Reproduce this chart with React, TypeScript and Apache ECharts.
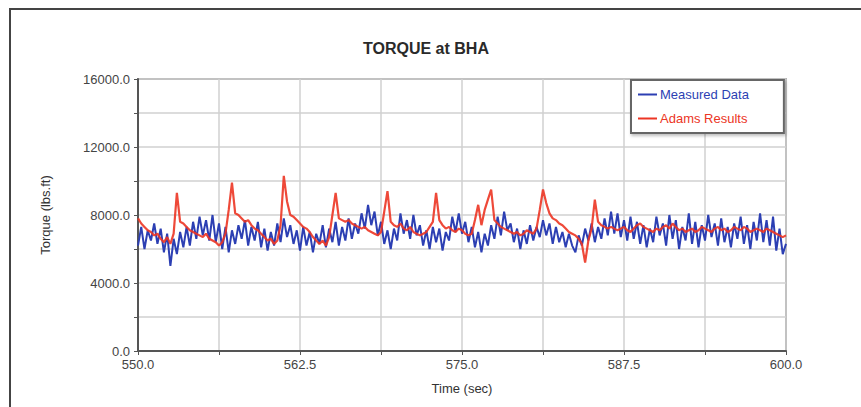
import React, { useEffect, useRef } from "react";
import * as echarts from "echarts";

const chartTitle = "TORQUE at BHA";
const xName = "Time (sec)";
const yName = "Torque (lbs.ft)";
const seriesNames = ["Measured Data", "Adams Results"];
const timeStart = 550;
const timeStep = 0.25;

// Measured torque (lbs.ft), one value every 0.25 s from 550 s to 600 s
const measured = [
  6200, 7300, 6000, 7100, 6500, 7500, 6300, 7200, 5800, 6900, 5000, 6600, 5700, 7000, 6100, 7300,
  6200, 7600, 6600, 7900, 6800, 7700, 6500, 8000, 6400, 7500, 6000, 7300, 5800, 7100, 6300, 7400,
  6600, 7700, 6200, 7300, 6500, 7600, 6100, 7200, 5900, 7000, 6200, 7500, 6400, 7800, 6700, 7400,
  6300, 7100, 5900, 7300, 6200, 7000, 5800, 6900, 6300, 7400, 6100, 7200, 6400, 7600, 6200, 7300,
  6500, 7800, 6600, 7500, 6900, 8100, 7200, 8600, 7400, 8200, 6800, 7600, 6300, 7100, 6000, 7200,
  6500, 8100, 6900, 7700, 6600, 8000, 6800, 7400, 6200, 7100, 6000, 7300, 6400, 7200, 5900, 7000,
  6500, 7900, 7000, 8100, 6900, 7600, 6400, 7300, 6100, 7000, 5800, 6900, 6200, 7400, 6600, 7900,
  6800, 8200, 7100, 7500, 6400, 7200, 6000, 7100, 6300, 7400, 6500, 7300, 6700, 7700, 6800, 7500,
  6300, 7300, 6400, 7000, 6100, 6900, 6200, 5800, 6800, 6200, 7200, 6500, 7500, 6400, 7300, 6600,
  7800, 6800, 8200, 6900, 8100, 6700, 7700, 6500, 7900, 6600, 7600, 6300, 7400, 6100, 7200, 6400,
  7900, 6800, 7500, 6200, 8000, 6600, 7700, 6000, 7300, 6500, 8100, 6300, 7600, 6100, 7400, 6500,
  8000, 6700, 7500, 6200, 7800, 6400, 7300, 6100, 7500, 6600, 7900, 6300, 7400, 6000, 7600, 6500,
  8100, 6400, 7700, 6200, 7900, 5900, 7200, 5700, 6300,
];

// Adams simulation torque (lbs.ft), same time base
const adams = [
  7800, 7500, 7300, 7100, 7000, 6800, 6900, 6600, 6400, 6700, 6300, 6900, 9300, 7600, 7500, 7300,
  7100, 7000, 6900, 6800, 6700, 6900, 6600, 6500, 6400, 6200, 6400, 6900, 8300, 9900, 8100, 8000,
  7800, 7600, 7700, 7400, 7200, 7100, 6900, 6700, 6500, 6600, 6300, 6500, 7400, 10300, 8800, 8000,
  7900, 7700, 7500, 7300, 7200, 7000, 6700, 6500, 6300, 6500, 6200, 6700, 8000, 9300, 7800, 7700,
  7600, 7700, 7500, 7400, 7300, 7200, 7300, 7100, 7000, 6900, 6800, 7000, 8200, 9400, 7600, 7400,
  7300, 7500, 7200, 7100, 7300, 7000, 6900, 6800, 6900, 7000, 7300, 7600, 9300, 7700, 7400, 7200,
  7300, 7100, 7000, 7200, 7100, 6900, 6800, 6900, 7700, 8600, 7400, 8300, 8900, 9500, 7700, 7500,
  7300, 7200, 7100, 7000, 6900, 7000, 6800, 6900, 7100, 7000, 6900, 7200, 8300, 9500, 8700, 8100,
  7800, 7700, 7500, 7400, 7200, 7000, 6900, 6800, 6600, 6300, 5200, 6500, 7200, 8900, 7600, 7400,
  7300, 7200, 7300, 7200, 7100, 7200, 7300, 7100, 7000, 7200, 7400, 7500, 7300, 7200, 7100, 7000,
  7200, 7100, 7300, 7400, 7200, 7500, 7300, 7100, 7200, 7000, 7100, 7200, 7000, 7100, 7300, 7200,
  7100, 7000, 7200, 7300, 7100, 7200, 7000, 7100, 7300, 7200, 7100, 7300, 7200, 7000, 7100, 7200,
  7100, 7000, 7200, 7100, 7000, 6900, 6800, 6700, 6800,
];

const blue = "#2c3fb3";
const red = "#ec3524";

const toPairs = (vals: number[]) => vals.map((v, i) => [timeStart + i * timeStep, v]);

export default function App() {
  const ref = useRef<HTMLDivElement>(null);
  useEffect(() => {
    if (!ref.current) return;
    const chart = echarts.init(ref.current, undefined, { renderer: "svg" });
    const font = "'Liberation Sans', Arial, sans-serif";
    chart.setOption({
      animation: false,
      backgroundColor: "#ffffff",
      textStyle: { fontFamily: font },
      title: {
        text: chartTitle,
        left: 358,
        top: 35,
        textStyle: { fontSize: 16, fontWeight: "bold", color: "#2a2a2a", fontFamily: font },
      },
      graphic: [
        {
          type: "rect",
          z: -10,
          shape: { x: 10, y: 9, width: 900, height: 450 },
          style: { fill: "none", stroke: "#444", lineWidth: 2 },
        },
      ],
      legend: {
        orient: "vertical",
        left: 631,
        top: 80,
        padding: [8, 35, 8, 7],
        itemGap: 11,
        itemWidth: 19,
        itemHeight: 2,
        itemStyle: { borderWidth: 0 },
        icon: "rect",
        backgroundColor: "#fff",
        borderColor: "#666",
        borderWidth: 2,
        shadowColor: "rgba(0,0,0,0.25)",
        shadowBlur: 3,
        shadowOffsetX: 1,
        shadowOffsetY: 2,
        textStyle: { fontSize: 13, fontFamily: font, padding: [0, 0, 0, -2] },
        data: [
          { name: seriesNames[0], textStyle: { color: blue } },
          { name: seriesNames[1], textStyle: { color: red } },
        ],
      },
      grid: {
        left: 138,
        top: 79,
        right: 75,
        bottom: 56,
        show: true,
        borderColor: "#777",
        borderWidth: 1.5,
      },
      xAxis: {
        type: "value",
        min: 550,
        max: 600,
        interval: 6.25,
        name: xName,
        nameLocation: "middle",
        nameGap: 31,
        nameTextStyle: { fontSize: 13, color: "#333", fontFamily: font },
        axisLine: { lineStyle: { color: "#555", width: 2 } },
        axisTick: { show: true, length: 4, lineStyle: { color: "#555" } },
        axisLabel: {
          fontSize: 13,
          color: "#444",
          margin: 7,
          formatter: (v: number) => (Math.abs(((v - 550) / 12.5) % 1) < 1e-6 ? v.toFixed(1) : ""),
        },
        splitLine: { show: true, lineStyle: { color: "#d0d0d0", width: 1.5 } },
      },
      yAxis: {
        type: "value",
        min: 0,
        max: 16000,
        interval: 2000,
        name: yName,
        nameLocation: "middle",
        nameGap: 86,
        nameTextStyle: { fontSize: 13, color: "#333", fontFamily: font },
        axisLine: { show: true, lineStyle: { color: "#555", width: 2 } },
        axisTick: { show: true, length: 4, lineStyle: { color: "#555" } },
        axisLabel: {
          fontSize: 13,
          color: "#444",
          margin: 8,
          formatter: (v: number) => (v % 4000 === 0 ? v.toFixed(1) : ""),
        },
        splitLine: { show: true, lineStyle: { color: "#d0d0d0", width: 1.5 } },
      },
      series: [
        {
          name: seriesNames[0],
          type: "line",
          data: toPairs(measured),
          symbol: "none",
          color: blue,
          lineStyle: { color: blue, width: 2 },
          z: 2,
        },
        {
          name: seriesNames[1],
          type: "line",
          data: toPairs(adams),
          symbol: "none",
          color: red,
          lineStyle: { color: red, width: 2.2, opacity: 0.9 },
          z: 3,
        },
      ],
    });
    return () => chart.dispose();
  }, []);
  return (
    <div
      ref={ref}
      style={{ position: "fixed", left: 0, top: 0, width: 861, height: 407, background: "#fff" }}
    />
  );
}
